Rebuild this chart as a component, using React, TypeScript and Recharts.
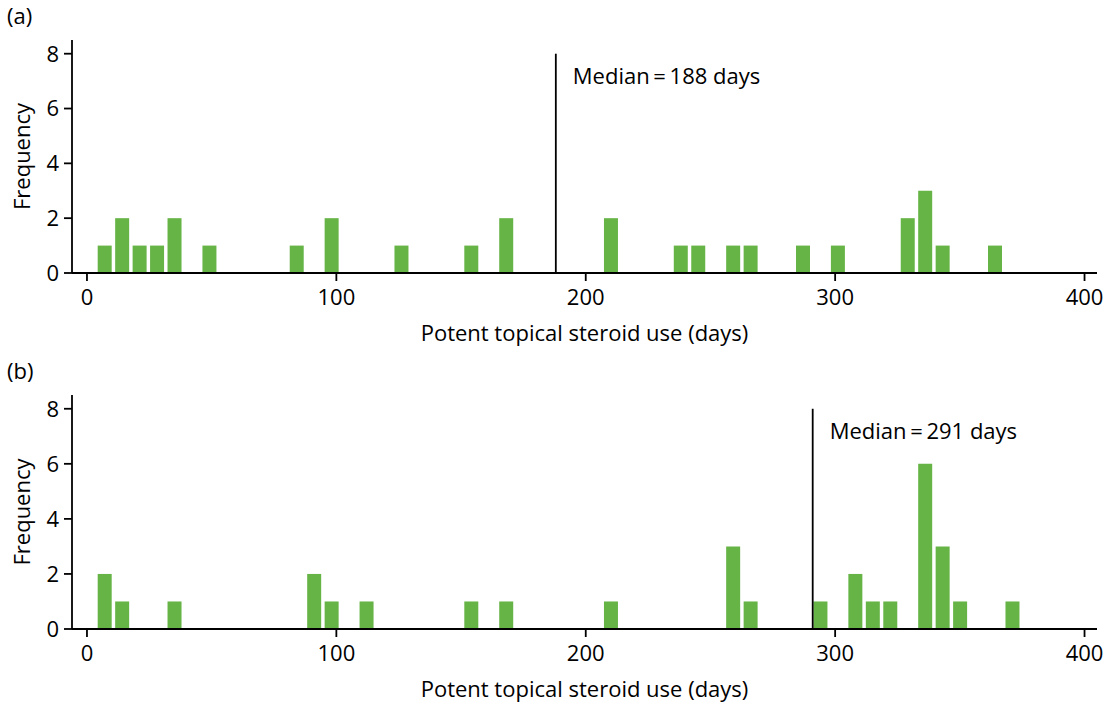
import * as React from 'react';
import {
  ComposedChart,
  Bar,
  XAxis,
  YAxis,
  ReferenceLine,
} from 'recharts';

// panel (a): weekly bins of potent steroid use
const DAYS_A = [7, 14, 21, 28, 35, 49, 84, 98, 126, 154, 168, 210, 238, 245, 259, 266, 287, 301, 329, 336, 343, 364];
const FREQ_A = [1, 2, 1, 1, 2, 1, 1, 2, 1, 1, 2, 2, 1, 1, 1, 1, 1, 1, 2, 3, 1, 1];

// panel (b)
const DAYS_B = [7, 14, 35, 91, 98, 112, 154, 168, 210, 259, 266, 294, 308, 315, 322, 336, 343, 350, 371];
const FREQ_B = [2, 1, 1, 2, 1, 1, 1, 1, 1, 3, 1, 1, 2, 1, 1, 6, 3, 1, 1];

const MEDIAN_A = 188;
const MEDIAN_B = 291;

const X_TICKS = [0, 100, 200, 300, 400];
const Y_TICKS = [0, 2, 4, 6, 8];

const FONT = '"Open Sans", "Noto Sans", sans-serif';
const FS = 22;
const GREEN = '#66B446';

interface HistProps {
  days: number[];
  freq: number[];
  median: number;
  panel: string;
  top: number;
  axisHeight: number;
}

function Histogram({ days, freq, median, panel, top, axisHeight }: HistProps) {
  const data = days.map((d, i) => ({ day: d, count: freq[i] }));
  const tickStyle = { fill: '#000', fontSize: FS, fontFamily: FONT };

  const yLabel = (props: any) => {
    const vb = props.viewBox || {};
    const cy = vb.y + vb.height / 2;
    return (
      <g>
        <text x={7} y={top - 16} fontSize={FS} fontFamily={FONT} fill="#000">
          ({panel})
        </text>
        <text
          x={30}
          y={cy}
          transform={`rotate(-90 30 ${cy})`}
          textAnchor="middle"
          fontSize={FS}
          fontFamily={FONT}
          fill="#000"
        >
          Frequency
        </text>
      </g>
    );
  };

  const medianLabel = (props: any) => {
    const vb = props.viewBox || {};
    return (
      <text x={vb.x + 17} y={vb.y + 30} fontSize={FS} fontFamily={FONT} fill="#000">
        {`Median\u2009=\u2009${median} days`}
      </text>
    );
  };

  return (
    <ComposedChart
      width={1110}
      height={351}
      data={data}
      margin={{ top, right: 13, bottom: 0, left: 0 }}
      style={{ overflow: 'visible' }}
    >
      <XAxis
        type="number"
        dataKey="day"
        domain={[-6, 405]}
        ticks={X_TICKS}
        allowDataOverflow
        height={axisHeight}
        tick={tickStyle}
        tickSize={8}
        tickMargin={8}
        axisLine={{ stroke: '#000', strokeWidth: 1.8 }}
        tickLine={{ stroke: '#000', strokeWidth: 1.8 }}
        label={{
          value: 'Potent topical steroid use (days)',
          position: 'insideBottom',
          offset: axisHeight - 68,
          fill: '#000',
          fontSize: FS,
          fontFamily: FONT,
        }}
      />
      <YAxis
        type="number"
        domain={[0, 8.5]}
        ticks={Y_TICKS}
        width={72}
        tick={tickStyle}
        tickSize={8}
        tickMargin={5}
        axisLine={{ stroke: '#000', strokeWidth: 1.8 }}
        tickLine={{ stroke: '#000', strokeWidth: 1.8 }}
        label={yLabel}
      />
      <Bar dataKey="count" fill={GREEN} barSize={14} isAnimationActive={false} />
      <ReferenceLine
        segment={[
          { x: median, y: 0 },
          { x: median, y: 8 },
        ]}
        stroke="#000"
        strokeWidth={1.8}
        label={medianLabel}
      />
    </ComposedChart>
  );
}

export default function App() {
  return (
    <div style={{ position: 'absolute', left: 0, top: 0, width: 1110, height: 702, background: '#fff' }}>
      <div style={{ position: 'absolute', left: 0, top: 0 }}>
        <Histogram days={DAYS_A} freq={FREQ_A} median={MEDIAN_A} panel="a" top={40} axisHeight={78} />
      </div>
      <div style={{ position: 'absolute', left: 0, top: 351 }}>
        <Histogram days={DAYS_B} freq={FREQ_B} median={MEDIAN_B} panel="b" top={44} axisHeight={73} />
      </div>
    </div>
  );
}
